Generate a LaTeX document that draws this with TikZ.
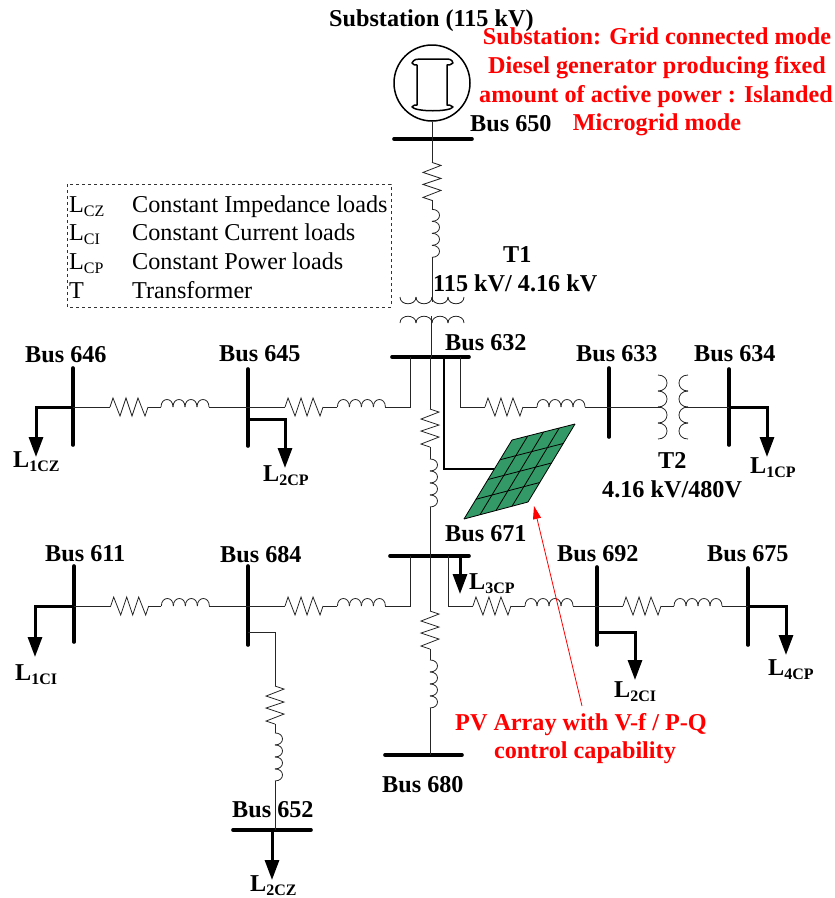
\documentclass[tikz,border=0pt]{standalone}
\usepackage{fontspec}
\setmainfont{Liberation Serif}
\usetikzlibrary{arrows.meta,calc}
\definecolor{panelgreen}{RGB}{51,153,102}
\newcommand{\lsub}[1]{L\raisebox{-4pt}{\fontsize{16}{16}\selectfont #1}}
\tikzset{
    wire/.style={line width=0.8pt,black!85},
    feeder/.style={line width=3pt,-{Triangle[width=14pt,length=20pt]}},
    busbar/.style={line width=3.6pt,line cap=round},
    lbl/.style={anchor=base west,inner sep=0pt,font=\fontsize{24.2}{26}\selectfont\bfseries},
    leg/.style={anchor=base west,inner sep=0pt,font=\fontsize{24.2}{26}\selectfont},
    note/.style={anchor=base,inner sep=0pt,red,font=\fontsize{24.2}{26}\selectfont\bfseries},
    res/.pic={\fill[white] (-19,-2) rectangle (19,2);
        \draw[wire] (-19,0) -- (-16,-9) -- (-9,9) -- (-3,-9) -- (3,9) -- (9,-9) -- (16,9) -- (19,0);},
    ind/.pic={\fill[white] (-24,-2) rectangle (24,2);
        \foreach \k in {-24,-12,0,12}{\draw[wire] (\k,0) .. controls (\k,-10) and ({\k+12},-10) .. ({\k+12},0);}},
}
\begin{document}
\begin{tikzpicture}[x=1pt,y=-1pt]
    \useasboundingbox (0,0) rectangle (835,898);
    % source
    \node[draw,circle,line width=1.5pt,minimum size=76pt,inner sep=0pt] (gen) at (432,83) {};
    \draw[line width=1.5pt,line join=round] (412,63) .. controls (414,59) and (417,59) .. (420,59) -- (445,59) .. controls (449,59) and (452,59) .. (453,63) .. controls (451,65) and (449,65) .. (447,65) -- (447,105) .. controls (449,105) and (451,105) .. (453,107) .. controls (450,112) and (416,112) .. (412,107) .. controls (413,105) and (415,105) .. (417,105) -- (417,65) .. controls (415,65) and (413,65) .. (412,63) -- cycle;
    % buses
    \foreach \nm/\xa/\ya/\xb/\yb in {b650/394/139/472/139,b632/392/357/469/357,b671/390/556/469/556,b680/385/755/462/755,b652/233/830/311/830,b646/73/368/73/445,b645/248/369/248/446,b633/609/368/609/437,b634/729/369/729/445,b611/74/566/74/642,b684/248/566/248/645,b692/597/567/597/645,b675/748/568/748/645}{
        \draw[busbar] (\xa,\ya) coordinate (\nm a) -- (\xb,\yb) coordinate (\nm b);
    }
    % junctions
    \coordinate (j646) at (73,407);
    \coordinate (j645) at (248,407);
    \coordinate (c632w) at (410,407);
    \coordinate (c632e) at (460,407);
    \coordinate (j633) at (609,407);
    \coordinate (j634) at (729,407);
    \coordinate (j611) at (74,606);
    \coordinate (j684) at (248,606);
    \coordinate (c671w) at (410,606);
    \coordinate (c671e) at (448,606);
    \coordinate (j692) at (597,606);
    \coordinate (j675) at (748,606);
    \coordinate (t1hi) at (432,302);
    \coordinate (t1lo) at (431,316);
    \coordinate (t2l) at (660,407);
    \coordinate (t2r) at (686,407);
    \coordinate (s652) at (275,632);
    % upstream feeder and T1
    \draw[wire] (gen.south) -- (t1hi) pic[pos=.331,rotate=-90] {res} pic[pos=.619,rotate=-90] {ind};
    \foreach \k in {400,416,432,448}{
        \draw[wire] (\k,297) .. controls (\k,306) and ({\k+16},306) .. ({\k+16},297);
        \draw[wire] (\k,323) .. controls (\k,314) and ({\k+16},314) .. ({\k+16},323);
    }
    \draw[wire] (t1lo) -- (431,357);
    % row of bus 632
    \draw[wire] (410,357) -- (c632w) -- (j645) pic[pos=.30] {ind} pic[pos=.654] {res};
    \draw[wire] (j645) -- (j646) pic[pos=.36] {ind} pic[pos=.68] {res};
    \draw[feeder] (j646) -- (36,407) -- (36,457);
    \draw[feeder] (248,419) -- (285,419) -- (285,468);
    \draw[wire] (460,357) -- (c632e) -- (j633) pic[pos=.295] {res} pic[pos=.678] {ind};
    \draw[wire] (j633) -- (t2l);
    % T2
    \foreach \k in {375,391,407,423}{
        \draw[wire] (658,\k) .. controls (670,\k) and (670,{\k+16}) .. (658,{\k+16});
        \draw[wire] (688,\k) .. controls (676,\k) and (676,{\k+16}) .. (688,{\k+16});
    }
    \draw[wire] (t2r) -- (j634);
    \draw[feeder] (j634) -- (767,407) -- (767,457);
    % PV array
    \coordinate (pvA) at (512,440);
    \coordinate (pvB) at (575,424);
    \coordinate (pvC) at (528,502);
    \coordinate (pvD) at (464,519);
    \draw[line width=1.6pt] (444,357) -- (444,469) -- ($(pvA)!.367!(pvD)$);
    \fill[panelgreen] (pvA) -- (pvB) -- (pvC) -- (pvD) -- cycle;
    \foreach \pos in {0,0.25,0.5,0.75,1}{
        \draw[wire,black] ($(pvA)!\pos!(pvB)$) -- ($(pvD)!\pos!(pvC)$);
        \draw[wire,black] ($(pvA)!\pos!(pvD)$) -- ($(pvB)!\pos!(pvC)$);
    }
    % link 632 to 671
    \draw[wire] (430,357) -- (430,556) pic[pos=.357,rotate=-90] {res} pic[pos=.633,rotate=-90] {ind};
    % row of bus 671
    \draw[wire] (410,556) -- (c671w) -- (j684) pic[pos=.30] {ind} pic[pos=.654] {res};
    \draw[wire] (j684) -- (j611) pic[pos=.36] {ind} pic[pos=.68] {res};
    \draw[feeder] (j611) -- (35,606) -- (35,657);
    % branch to bus 652
    \draw[wire] (248,632) -- (s652) -- (275,830) pic[pos=.369,rotate=-90] {res} pic[pos=.631,rotate=-90] {ind};
    \draw[feeder] (272,830) -- (272,880);
    \draw[feeder] (460,556) -- (460,594);
    \draw[wire] (448,556) -- (c671e) -- (j692) pic[pos=.295] {res} pic[pos=.678] {ind};
    \draw[wire] (j692) -- (j675) pic[pos=.298] {res} pic[pos=.669] {ind};
    \draw[feeder] (597,632) -- (635,632) -- (635,680);
    \draw[feeder] (j675) -- (786,606) -- (786,655);
    % down to bus 680
    \draw[wire] (430,556) -- (430,755) pic[pos=.372,rotate=-90] {res} pic[pos=.643,rotate=-90] {ind};
    % legend
    \draw[dashed,black!80] (67,184) rectangle (391,307);
    \foreach \y/\nm/\txt in {212/CZ/Constant Impedance loads,240/CI/Constant Current loads,269/CP/Constant Power loads}{
        \node[leg] (leg\nm) at (69,\y) {\lsub{\nm}};
        \node[leg] (txt\nm) at (132,\y) {\txt};
    }
    \node[leg] (legT) at (69,298) {T};
    \node[leg] (txtT) at (132,298) {Transformer};
    % labels
    \foreach \nm/\x/\y/\txt in {sub/329/26/Substation (115 kV),l650/470/131/Bus 650,l632/445/350/Bus 632,l633/576/361/Bus 633,l634/694/361/Bus 634,l646/25/362/Bus 646,l645/219/361/Bus 645,l671/445/541/Bus 671,l611/45/561/Bus 611,l684/220/562/Bus 684,l692/557/561/Bus 692,l675/707/561/Bus 675,l652/232/817/Bus 652,l680/382/792/Bus 680,lt1/503/262/T1,lt1v/433/291/{115 kV/ 4.16 kV},lt2/658/468/T2,lt2v/602/497/{4.16 kV/480V}}{
        \node[lbl] (\nm) at (\x,\y) {\txt};
    }
    \foreach \x/\y/\nm in {13/467/1CZ,263/481/2CP,750/473/1CP,15/680/1CI,469/589/3CP,614/697/2CI,768/675/4CP,250/891/2CZ}{
        \node[lbl] (load\nm) at (\x,\y) {\lsub{\nm}};
    }
    % annotations
    \node[note] (noteA) at (657,44) {Substation: Grid connected mode};
    \node[note] (noteB) at (657,73) {Diesel generator producing fixed};
    \node[note] (noteC) at (656,102) {amount of active power : Islanded};
    \node[note] (noteD) at (657,130) {Microgrid mode};
    \node[note] (pvnoteA) at (581,730) {PV Array with V-f / P-Q};
    \node[note] (pvnoteB) at (585,758) {control capability};
    \coordinate (pvtip) at (534,506);
    \draw[red,line width=0.8pt,-{Triangle[width=8pt,length=13pt]}] (582,706) -- (pvtip);
\end{tikzpicture}
\end{document}
